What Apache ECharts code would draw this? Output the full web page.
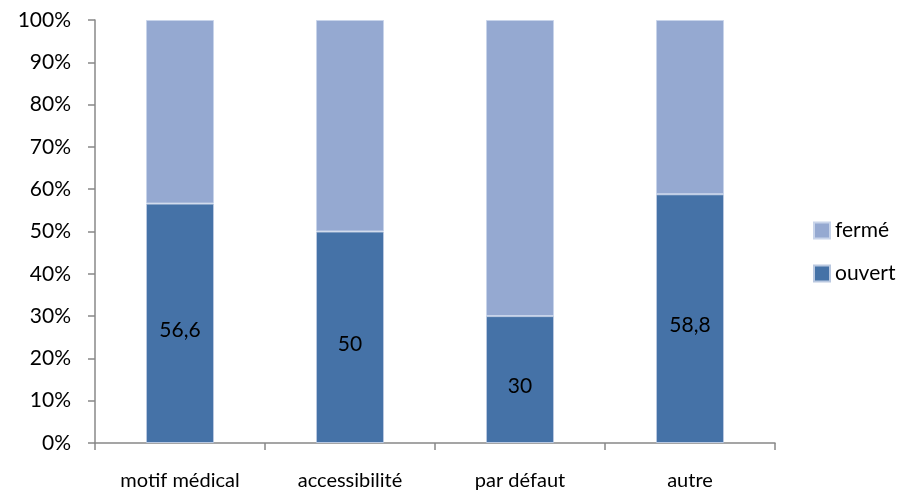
<!DOCTYPE html>
<html><head><meta charset="utf-8">
<script src="https://cdn.jsdelivr.net/npm/echarts@6/dist/echarts.min.js"></script>
<style>html,body{margin:0;padding:0;background:#fff}#c{width:916px;height:494px}</style>
</head><body><div id="c"></div>
<script>
const categories = ['motif médical', 'accessibilité', 'par défaut', 'autre'];
const ouvert = [56.6, 50, 30, 58.8];
const ferme = [43.4, 50, 70, 41.2];
const yTicks = [0, 10, 20, 30, 40, 50, 60, 70, 80, 90, 100];

const FONT = 'Lato';
const chart = echarts.init(document.getElementById('c'), null, {renderer: 'canvas'});
chart.setOption({
  animation: false,
  textStyle: {fontFamily: FONT},
  grid: {left: 95, right: 141, top: 20, bottom: 51, containLabel: false},
  legend: {
    orient: 'vertical', left: 808, top: 215, itemGap: 22,
    itemWidth: 16, itemHeight: 16, icon: 'rect',
    data: ['fermé', 'ouvert'],
    textStyle: {fontFamily: FONT, fontSize: 21, color: '#000', padding: [0, 0, 0, 0]}
  },
  xAxis: {
    type: 'category', data: categories, boundaryGap: true,
    axisLine: {lineStyle: {color: '#888', width: 1.5}},
    axisTick: {show: true, alignWithLabel: false, length: 7, lineStyle: {color: '#888', width: 1.5}},
    axisLabel: {color: '#000', fontSize: 20, fontFamily: FONT, margin: 28}
  },
  yAxis: {
    type: 'value', min: 0, max: 100, interval: 10,
    axisLine: {show: true, lineStyle: {color: '#888', width: 1.5}},
    axisTick: {show: true, length: 7, lineStyle: {color: '#888', width: 1.5}},
    splitLine: {show: false},
    axisLabel: {color: '#000', fontSize: 21, fontFamily: FONT, margin: 24,
      formatter: v => yTicks.includes(v) ? v + '%' : ''}
  },
  series: [
    {name: 'ouvert', type: 'bar', stack: 's', data: ouvert, barWidth: '40%',
     itemStyle: {color: '#4572A7', borderColor: '#b9c8e0', borderWidth: 1},
     label: {show: true, position: 'inside', offset: [0, 7], color: '#000', fontSize: 21, fontFamily: FONT,
       formatter: p => String(p.value).replace('.', ',')}},
    {name: 'fermé', type: 'bar', stack: 's', data: ferme, barWidth: '40%',
     itemStyle: {color: '#95A9D1', borderColor: '#c8d4ea', borderWidth: 1}}
  ]
});
</script></body></html>
